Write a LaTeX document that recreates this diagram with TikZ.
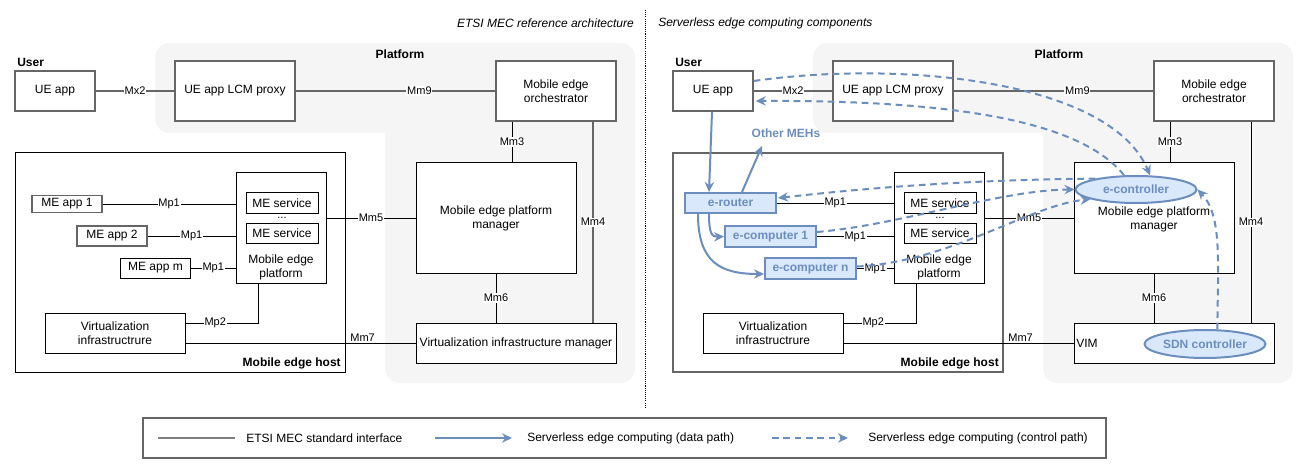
\documentclass[tikz,border=0pt]{standalone}
\usepackage{fontspec}
\setmainfont{Liberation Sans}
\usetikzlibrary{arrows.meta,calc,shapes.geometric}
\definecolor{bluel}{HTML}{6C8EBF}
\definecolor{bluef}{HTML}{DAE8FC}
\definecolor{grayf}{HTML}{F5F5F5}
\definecolor{gline}{HTML}{666666}
\newcommand{\fsA}{\fontsize{9}{10.5}\selectfont}
\newcommand{\fsB}{\fontsize{8.25}{9.5}\selectfont}
\tikzset{
 sz/.style 2 args={minimum width=#1*0.75pt, minimum height=#2*0.75pt},
 box/.style={draw=black, line width=0.75pt, fill=white, inner sep=0pt, align=center, font=\fsA},
 gbox/.style={box, draw=gline, line width=1.1pt},
 ebox/.style={draw=bluel, fill=bluef, line width=1.5pt, inner sep=0pt, font=\fsA\bfseries, text=bluel},
 eell/.style={ellipse, draw=bluel, fill=bluef, line width=1.5pt, inner sep=0pt, font=\fsA\bfseries, text=bluel},
 ln/.style={draw=black, line width=0.75pt},
 gln/.style={draw=gline, line width=1.1pt},
 lbl/.style={fill=white, inner sep=0.6pt, font=\fsB},
 txt/.style={inner sep=0pt, font=\fsA, align=center},
 data/.style={draw=bluel, line width=1.5pt, -{Stealth[length=7.5pt,width=7pt,inset=2.5pt]}},
 ctrl/.style={data, dash pattern=on 5pt off 3.5pt},
 region/.style={fill=grayf, rounded corners=11pt},
}
\begin{document}
\begin{tikzpicture}[x=0.75pt, y=-0.75pt]
\useasboundingbox (0,0) rectangle (1306,474);

% ---------- captions and separator
\node[txt, font=\fsA\itshape, anchor=east] (capL) at (634,23) {ETSI MEC reference architecture};
\node[txt, font=\fsA\itshape, anchor=west] (capR) at (658,23) {Serverless edge computing components};
\draw[line width=0.6pt, dash pattern=on 0.8pt off 0.8pt] (645,10) -- (645,407);

% ---------- platform regions
\fill[region] (155,43) rectangle (635,133);
\fill[region] (385,43) rectangle (635,383);
\fill[region] (813,43) rectangle (1293,133);
\fill[region] (1043,43) rectangle (1293,383);

%================ LEFT ================
\node[txt, font=\fsA\bfseries, anchor=west] (userL) at (17,62) {User};
\node[txt, font=\fsA\bfseries] (platL) at (400,54) {Platform};
\node[gbox, sz={80}{40}] (ueL) at (55,91) {UE app};
\node[gbox, sz={120}{60}] (proxyL) at (235,91) {UE app LCM proxy};
\node[gbox, sz={120}{60}] (orchL) at (556,91) {Mobile edge\\orchestrator};
\node[box, sz={160}{110}] (mepmL) at (496,218) {Mobile edge platform\\manager};
\node[box, sz={200}{40}] (vimL) at (516,343) {Virtualization infrastructure manager};

\node[box, sz={330}{219}] (mehL) at (180,262.5) {};
\node[txt, font=\fsA\bfseries, anchor=east] (mehLt) at (341,363) {Mobile edge host};
\node[box, sz={90}{110}] (mepL) at (281,228) {};
\node[txt] (mepLt) at (281,267) {Mobile edge\\platform};
\node[box, sz={72}{20}] (s1L) at (282,203) {ME service};
\node[box, sz={72}{20}] (s2L) at (282,233) {ME service};
\node[txt, font=\fsB] (dotsL) at (282,218) {...};
\node[gbox, sz={70}{17}] (me1) at (67,204) {ME app 1};
\node[gbox, sz={70}{20}] (me2) at (112,236) {ME app 2};
\node[box, sz={70}{20}] (mem) at (155.5,268) {ME app m};
\node[box, sz={140}{40}] (viL) at (115,333) {Virtualization\\infrastructrure};

\draw[gln] (ueL) -- node[lbl]{Mx2} (proxyL);
\draw[gln] (proxyL) -- node[lbl, pos=0.62]{Mm9} (orchL);
\draw[ln] ($(orchL.south)+(-44,0)$) -- node[lbl]{Mm3} ($(mepmL.north)+(16,0)$);
\draw[gln] ($(orchL.south)+(37,0)$) -- node[lbl]{Mm4} ($(vimL.north)+(77,0)$);
\draw[ln] (mepmL.south) -- node[lbl]{Mm6} ($(vimL.north)+(-20,0)$);
\draw[ln] ($(mepL.east)+(0,-10)$) -- node[lbl]{Mm5} (mepmL.west);
\draw[ln] ($(viL.east)+(0,10)$) -- node[pos=0.77, above, font=\fsB, inner sep=1pt]{Mm7} (vimL.west);
\draw[ln] ($(viL.east)+(0,-10)$) -| node[lbl, pos=0.205]{Mp2} ($(mepL.south)+(-23,0)$);
\draw[ln] (me1) -- node[lbl]{Mp1} (me1 -| mepL.west);
\draw[ln] (me2) -- node[lbl]{Mp1} (me2 -| mepL.west);
\draw[ln] (mem) -- node[lbl]{Mp1} (mem -| mepL.west);

%================ RIGHT ================
\node[txt, font=\fsA\bfseries, anchor=west] (userR) at (675,62) {User};
\node[txt, font=\fsA\bfseries] (platR) at (1059,54) {Platform};
\node[gbox, sz={80}{40}] (ueR) at (713,91) {UE app};
\node[gbox, sz={120}{60}] (proxyR) at (893,91) {UE app LCM proxy};
\node[gbox, sz={120}{60}] (orchR) at (1214,91) {Mobile edge\\orchestrator};
\node[box, sz={160}{110}] (mepmR) at (1154,218) {};
\node[txt] (mepmRt) at (1154,219) {Mobile edge platform\\manager};
\node[box, sz={200}{40}] (vimR) at (1174,343) {};
\node[txt, anchor=west] (vimRt) at (1076,343) {VIM};

\node[gbox, sz={330}{219}] (mehR) at (838,262.5) {};
\node[txt, font=\fsA\bfseries, anchor=east] (mehRt) at (999,363) {Mobile edge host};
\node[box, sz={90}{110}] (mepR) at (939,228) {};
\node[txt] (mepRt) at (939,267) {Mobile edge\\platform};
\node[box, sz={72}{20}] (s1R) at (940,203) {ME service};
\node[box, sz={72}{20}] (s2R) at (940,233) {ME service};
\node[txt, font=\fsB] (dotsR) at (940,218) {...};
\node[ebox, sz={91}{20}] (erouter) at (730.5,203) {e-router};
\node[ebox, sz={91}{21}] (ecomp1) at (770.5,236.5) {e-computer 1};
\node[ebox, sz={91}{21}] (ecompn) at (810.5,268.5) {e-computer n};
\node[box, sz={140}{40}] (viR) at (773,333) {Virtualization\\infrastructrure};
\node[eell, sz={121}{27}] (econ) at (1136,189.5) {e-controller};
\node[eell, sz={121}{28}] (sdn) at (1205,344) {SDN controller};
\node[txt, font=\fsA\bfseries, text=bluel] (othm) at (786,133) {Other MEHs};
\coordinate (omeh) at (762,146);

\draw[gln] (ueR) -- node[lbl]{Mx2} (proxyR);
\draw[gln] (proxyR) -- node[lbl, pos=0.62]{Mm9} (orchR);
\draw[ln] ($(orchR.south)+(-44,0)$) -- node[lbl]{Mm3} ($(mepmR.north)+(16,0)$);
\draw[ln] ($(orchR.south)+(37,0)$) -- node[lbl]{Mm4} ($(vimR.north)+(77,0)$);
\draw[ln] (mepmR.south) -- node[lbl]{Mm6} ($(vimR.north)+(-20,0)$);
\draw[ln] ($(mepR.east)+(0,-10)$) -- node[lbl]{Mm5} (mepmR.west);
\draw[ln] ($(viR.east)+(0,10)$) -- node[pos=0.77, above, font=\fsB, inner sep=1pt]{Mm7} (vimR.west);
\draw[ln] ($(viR.east)+(0,-10)$) -| node[lbl, pos=0.205]{Mp2} ($(mepR.south)+(-23,0)$);
\draw[ln] (erouter) -- node[lbl]{Mp1} (erouter -| mepR.west);
\draw[ln] (ecomp1) -- node[lbl]{Mp1} (ecomp1 -| mepR.west);
\draw[ln] (ecompn) -- node[lbl]{Mp1} (ecompn -| mepR.west);

% data path
\draw[data] ($(ueR.south)+(-1,0)$) -- ($(erouter.north)+(-21.5,0)$);
\draw[data] ($(erouter.north)+(11.5,0)$) -- (omeh);
\draw[data] ($(erouter.south)+(-32.5,0)$) .. controls (698,262) and (720,274) .. ($(ecompn.west)+(0,5.5)$);
\draw[data] ($(erouter.south)+(-21.5,0)$) .. controls (709,234) and (712,237) .. (ecomp1.west);

% control path
\draw[ctrl] ($(ueR.east)+(0,-10)$) .. controls (900,60) and (1110,80) .. (econ.45);
\draw[ctrl] (econ.130) .. controls (1080,120) and (950,100) .. ($(ueR.east)+(2,10)$);
\draw[ctrl] (econ.165) .. controls (950,180) and (850,190) .. ($(erouter.east)+(1,-5)$);
\draw[ctrl] ($(ecomp1.east)+(0,-4.5)$) .. controls (900,225) and (1000,190) .. (econ.west);
\draw[ctrl] ($(ecompn.east)+(0,-2)$) .. controls (950,262) and (1030,205) .. (econ.192);
\draw[ctrl] (sdn.50) .. controls (1218,260) and (1222,215) .. (econ.east);

%================ LEGEND ================
\node[box, draw=gline, line width=1.1pt, sz={963}{40}] (leg) at (624.5,438) {};
\coordinate (l1a) at (150,438); \coordinate (l1b) at (193,438);
\coordinate (l2a) at (300,438); \coordinate (l2b) at (343,438);
\coordinate (l3a) at (629,438); \coordinate (l3b) at (668,438);
\node[txt, anchor=west] (t1) at (246,438) {ETSI MEC standard interface};
\node[txt, anchor=west] (t2) at (527,438) {Serverless edge computing (data path)};
\node[txt, anchor=west] (t3) at (868,438) {Serverless edge computing (control path)};
\coordinate (l1a) at (158,438); \coordinate (l1b) at (235,438);
\coordinate (l2a) at (435,438); \coordinate (l2b) at (512,438);
\coordinate (l3a) at (772,438); \coordinate (l3b) at (848,438);
\draw[draw=gray, line width=1.5pt] (l1a) -- (l1b);
\draw[data] (l2a) -- (l2b);
\draw[ctrl] (l3a) -- (l3b);
\end{tikzpicture}
\end{document}
